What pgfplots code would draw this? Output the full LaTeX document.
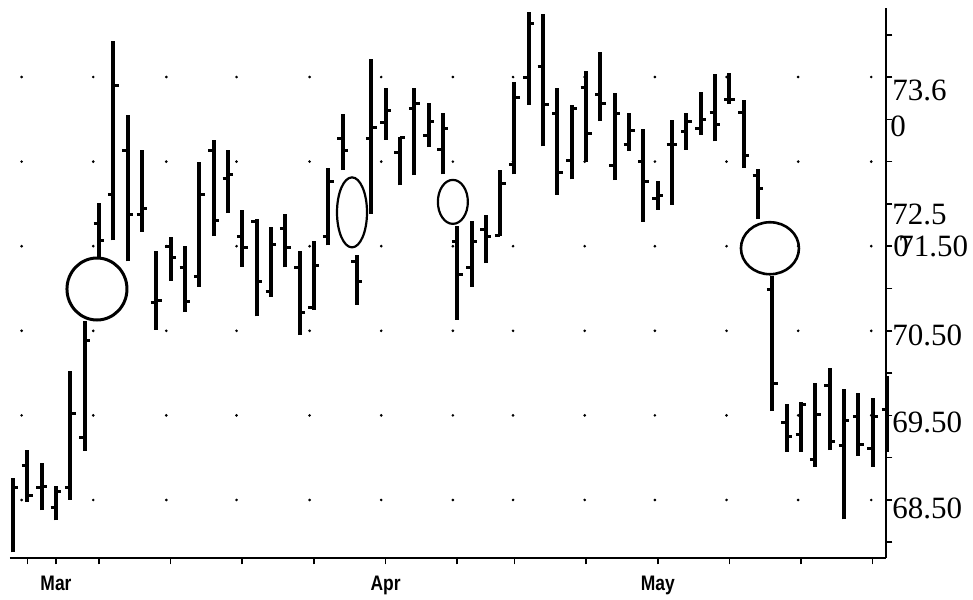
\documentclass[border=0pt]{standalone}
\usepackage{pgfplots}
\pgfplotsset{compat=1.18}
\usepackage{pgfplotstable}
\usepackage{fontspec}
\setmainfont{Liberation Serif}
\newfontfamily\monthfont[FakeStretch=0.83]{Liberation Sans}

\pgfdeclareplotmark{oleft}{\pgfpathmoveto{\pgfqpoint{-2.7pt}{0pt}}\pgfpathlineto{\pgfqpoint{0pt}{0pt}}\pgfusepathqstroke}
\pgfdeclareplotmark{cright}{\pgfpathmoveto{\pgfqpoint{0pt}{0pt}}\pgfpathlineto{\pgfqpoint{2.7pt}{0pt}}\pgfusepathqstroke}

\pgfplotstableread{
i h l o c
0 68.76 67.88 nan 68.65
1 69.09 68.48 68.91 68.55
2 68.94 68.38 68.65 68.66
3 68.66 68.26 68.41 68.60
4 70.02 68.50 68.65 69.52
5 70.61 69.08 69.24 70.38
6 72.01 71.36 71.77 71.57
7 73.92 71.57 72.11 73.40
8 73.05 71.32 72.63 71.88
9 72.64 71.67 71.88 71.95
10 71.44 70.51 70.84 70.86
11 71.61 71.09 71.50 71.37
12 71.50 70.72 71.25 70.85
13 72.49 71.02 71.14 72.11
14 72.76 71.62 72.63 71.80
15 72.64 71.89 72.30 72.35
16 71.93 71.26 71.62 71.49
17 71.82 70.67 71.79 71.08
18 71.73 70.90 70.96 71.52
19 71.88 71.25 71.71 71.48
20 71.44 70.45 71.25 70.72
21 71.56 70.75 70.78 71.27
22 72.43 71.51 71.61 72.26
23 73.06 72.40 72.77 72.63
24 71.40 70.81 71.32 71.08
25 73.71 71.88 72.77 72.90
26 73.37 72.76 72.96 73.11
27 72.79 72.22 72.61 72.79
28 73.37 72.34 73.13 73.19
29 73.19 72.67 72.81 72.98
30 73.07 72.35 72.64 72.89
31 71.74 70.63 71.56 71.17
32 71.80 71.02 71.25 71.55
33 71.87 71.30 71.70 71.62
34 72.40 71.62 71.63 72.24
35 73.44 72.35 72.46 73.26
36 74.27 73.17 73.49 74.13
37 74.24 72.68 73.62 73.18
38 73.37 72.11 73.07 72.37
39 73.17 72.29 72.51 73.13
40 73.57 72.50 73.38 72.83
41 73.79 72.98 73.29 73.19
42 73.31 72.28 72.45 73.07
43 73.08 72.63 72.70 72.87
44 72.88 71.79 72.50 72.26
45 72.27 71.93 72.06 72.10
46 72.99 71.99 72.70 72.70
47 73.08 72.64 72.86 72.98
48 73.32 72.82 72.89 73.00
49 73.54 72.74 73.08 72.94
50 73.55 73.18 73.24 73.23
51 73.23 72.43 73.08 72.57
52 72.41 71.82 72.33 72.18
53 71.15 69.55 70.99 69.88
54 69.63 69.07 69.42 69.25
55 69.66 69.07 69.27 69.63
56 69.88 68.89 68.98 69.51
57 70.06 69.09 69.85 69.19
58 69.81 68.27 69.14 69.44
59 69.76 69.02 69.49 69.15
60 69.71 68.89 69.11 69.49
61 69.97 69.07 69.57 nan
}\bars

\begin{document}
\begin{tikzpicture}
\useasboundingbox (-5pt,-20.5pt) rectangle (481.5pt,279pt);
\begin{axis}[
  at={(0,0)}, anchor=south west,
  scale only axis, width=438pt, height=275pt,
  xmin=-0.21, xmax=60.93, ymin=67.814, ymax=74.316,
  clip=false,
  axis x line*=bottom, axis y line*=right,
  axis line style={line width=0.9pt},
  tick align=outside, major tick length=3.2pt,
  tick style={line width=0.8pt, black},
  xtick={1,3,6,11,16,21,26,31,35,40,45,50,55,60},
  xticklabels={,Mar,,,,,Apr,,,,May,,,},
  xticklabel style={font=\monthfont\bfseries\fontsize{10.5}{11}\selectfont, inner sep=0pt, anchor=north, yshift=-5.5pt},
  ytick={68,68.5,...,74.1},
  yticklabels={},
]
% dotted grid
\addplot[only marks, mark=*, mark size=0.45pt, black] coordinates {(0.6,73.5)(5.6,73.5)(10.7,73.5)(15.6,73.5)(20.7,73.5)(25.7,73.5)(30.7,73.5)(34.9,73.5)(39.9,73.5)(44.8,73.5)(49.8,73.5)(54.8,73.5)(59.9,73.5)};
\addplot[only marks, mark=*, mark size=0.45pt, black] coordinates {(0.6,72.5)(5.6,72.5)(10.7,72.5)(15.6,72.5)(20.7,72.5)(25.7,72.5)(30.7,72.5)(34.9,72.5)(39.9,72.5)(44.8,72.5)(49.8,72.5)(54.8,72.5)(59.9,72.5)};
\addplot[only marks, mark=*, mark size=0.45pt, black] coordinates {(0.6,71.5)(5.6,71.5)(10.7,71.5)(15.6,71.5)(20.7,71.5)(25.7,71.5)(30.7,71.5)(34.9,71.5)(39.9,71.5)(44.8,71.5)(49.8,71.5)(54.8,71.5)(59.9,71.5)};
\addplot[only marks, mark=*, mark size=0.45pt, black] coordinates {(0.6,70.5)(5.6,70.5)(10.7,70.5)(15.6,70.5)(20.7,70.5)(25.7,70.5)(30.7,70.5)(34.9,70.5)(39.9,70.5)(44.8,70.5)(49.8,70.5)(54.8,70.5)(59.9,70.5)};
\addplot[only marks, mark=*, mark size=0.45pt, black] coordinates {(0.6,69.5)(5.6,69.5)(10.7,69.5)(15.6,69.5)(20.7,69.5)(25.7,69.5)(30.7,69.5)(34.9,69.5)(39.9,69.5)(44.8,69.5)(49.8,69.5)(54.8,69.5)(59.9,69.5)};
\addplot[only marks, mark=*, mark size=0.45pt, black] coordinates {(0.6,68.5)(5.6,68.5)(10.7,68.5)(15.6,68.5)(20.7,68.5)(25.7,68.5)(30.7,68.5)(34.9,68.5)(39.9,68.5)(44.8,68.5)(49.8,68.5)(54.8,68.5)(59.9,68.5)};
% high-low bars
\addplot[draw=none, no markers,
  error bars/.cd, y dir=plus, y explicit,
  error mark=none, error bar style={line width=2pt, black}]
  table[x=i, y=l, y error plus expr=\thisrow{h}-\thisrow{l}] {\bars};
% open and close ticks
\addplot[only marks, mark=oleft, mark options={line width=1.5pt}, black] table[x=i, y=o] {\bars};
\addplot[only marks, mark=cright, mark options={line width=1.5pt}, black] table[x=i, y=c] {\bars};
% circles
\draw[line width=1.5pt] (axis cs:5.86,70.994) ellipse [x radius=15pt, y radius=15.5pt];
\draw[line width=1.1pt] (axis cs:23.66,71.90) ellipse [x radius=7.5pt, y radius=17.5pt];
\draw[line width=1.1pt] (axis cs:30.7,72.024) ellipse [x radius=7.5pt, y radius=11pt];
\draw[line width=1.3pt] (axis cs:52.83,71.476) ellipse [x radius=14.5pt, y radius=13pt];
% right-hand labels
\begin{scope}[every node/.style={anchor=west, inner sep=0pt, font=\fontsize{15.5}{16}\selectfont}]
\node at ([xshift=3pt]axis cs:60.93,73.346) {73.6};
\node at ([xshift=2pt]axis cs:60.93,72.921) {0};
\node at ([xshift=3pt]axis cs:60.93,71.881) {72.5};
\node at ([xshift=3.5pt]axis cs:60.93,71.502) {\makebox[0pt][l]{0}\kern2.5pt 71.50};
\node at ([xshift=3pt]axis cs:60.93,70.450) {70.50};
\node at ([xshift=3pt]axis cs:60.93,69.422) {69.50};
\node at ([xshift=3pt]axis cs:60.93,68.405) {68.50};
\end{scope}
\end{axis}
\end{tikzpicture}
\end{document}
